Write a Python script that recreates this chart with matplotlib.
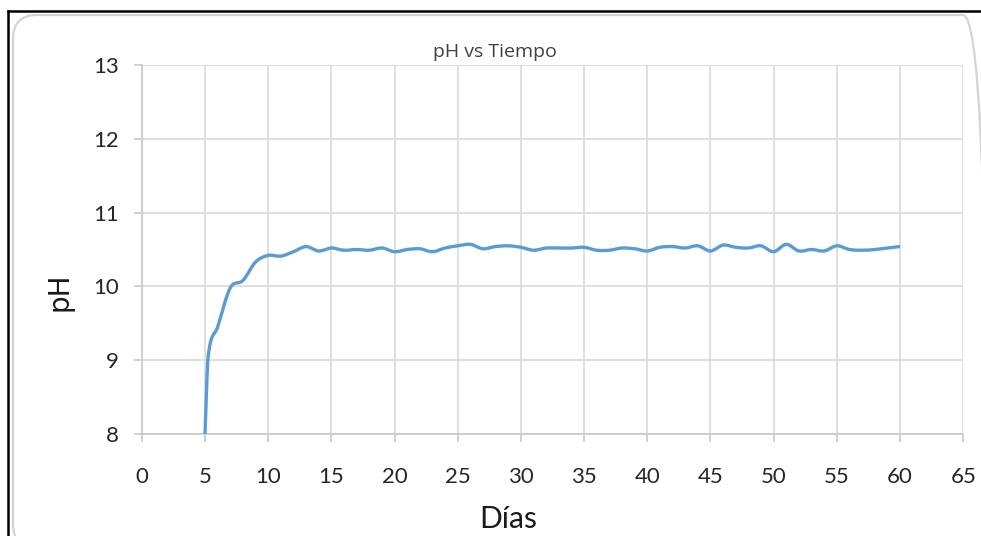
import matplotlib
matplotlib.use("Agg")
import matplotlib.pyplot as plt
from matplotlib.path import Path
from matplotlib.patches import PathPatch, FancyBboxPatch
from matplotlib.lines import Line2D
from matplotlib.transforms import IdentityTransform

# pH readings per day
days = [5, 5.25, 6, 7, 8, 9, 10, 11, 12, 13, 14, 15, 16, 17, 18, 19, 20,
        21, 22, 23, 24, 25, 26, 27, 28, 29, 30, 31, 32, 33, 34, 35, 36, 37,
        38, 39, 40, 41, 42, 43, 44, 45, 46, 47, 48, 49, 50, 51, 52, 53, 54,
        55, 56, 57, 58, 59, 60]
ph = [8.00, 9.05, 9.45, 9.98, 10.08, 10.33, 10.42, 10.41, 10.47, 10.54,
      10.48, 10.52, 10.49, 10.50, 10.49, 10.52, 10.47, 10.50, 10.51, 10.47,
      10.52, 10.55, 10.57, 10.51, 10.54, 10.55, 10.53, 10.49, 10.52, 10.52,
      10.52, 10.53, 10.49, 10.49, 10.52, 10.51, 10.48, 10.53, 10.54, 10.52,
      10.55, 10.48, 10.56, 10.53, 10.52, 10.55, 10.47, 10.57, 10.48, 10.50,
      10.48, 10.55, 10.50, 10.49, 10.50, 10.52, 10.54]

x_ticks = list(range(0, 66, 5))
y_ticks = list(range(8, 14))

LABEL_FONT = ["Lato", "DejaVu Sans"]


def smooth_path(xs, ys):
    """Cubic Hermite curve through the points, written as Bezier segments."""
    n = len(xs)
    slopes = []
    for i in range(n):
        if i == 0:
            m = (ys[1] - ys[0]) / (xs[1] - xs[0])
        elif i == n - 1:
            m = (ys[-1] - ys[-2]) / (xs[-1] - xs[-2])
        else:
            m = (ys[i + 1] - ys[i - 1]) / (xs[i + 1] - xs[i - 1])
        slopes.append(m)
    verts = [(xs[0], ys[0])]
    codes = [Path.MOVETO]
    for i in range(n - 1):
        h = xs[i + 1] - xs[i]
        verts += [(xs[i] + h / 3, ys[i] + slopes[i] * h / 3),
                  (xs[i + 1] - h / 3, ys[i + 1] - slopes[i + 1] * h / 3),
                  (xs[i + 1], ys[i + 1])]
        codes += [Path.CURVE4] * 3
    return Path(verts, codes)


W, H = 981, 536
fig = plt.figure(figsize=(W / 100, H / 100), dpi=100)
fig.patch.set_facecolor("white")

# outer frame: black edge plus rounded chart border
fig.add_artist(Line2D([8 / W, 8 / W], [0, 1 - 11 / H], transform=fig.transFigure,
                      color="black", lw=1.8))
fig.add_artist(Line2D([8 / W, 1], [1 - 11 / H, 1 - 11 / H], transform=fig.transFigure,
                      color="black", lw=1.8))
fig.add_artist(FancyBboxPatch((13, -12), 974, H - 15 + 12,
                              boxstyle="round,pad=0,rounding_size=24",
                              transform=IdentityTransform(),
                              facecolor="none", edgecolor="#d4d4d4", lw=1.6))

ax = fig.add_axes([141.8 / W, 102 / H, 821.4 / W, 369 / H])
ax.set_facecolor("none")

ax.set_xlim(0, 65)
ax.set_ylim(8, 13)
ax.set_xticks(x_ticks)
ax.set_yticks(y_ticks)
ax.set_xticklabels([str(v) for v in x_ticks], family=LABEL_FONT, fontsize=16,
                   color="#262626")
ax.set_yticklabels([str(v) for v in y_ticks], family=LABEL_FONT, fontsize=16,
                   color="#262626")

ax.grid(True, color="#d9d9d9", lw=1.2)
ax.set_axisbelow(True)
for side in ("top", "right"):
    ax.spines[side].set_visible(False)
for side in ("left", "bottom"):
    ax.spines[side].set_color("#c8c8c8")
    ax.spines[side].set_linewidth(1.2)
ax.tick_params(axis="both", which="major", direction="out", length=5.5,
               width=1.2, color="#c8c8c8")
ax.tick_params(axis="x", pad=18)
ax.tick_params(axis="y", pad=11)

curve = PathPatch(smooth_path(days, ph), fill=False, edgecolor="#5b9bd5",
                  lw=2.4, capstyle="butt", joinstyle="round", zorder=3)
ax.add_patch(curve)

ax.set_title("pH vs Tiempo", family=["Open Sans", "DejaVu Sans"], fontsize=14,
             color="#404040", x=(495 - 141.8) / 821.4, y=1 + 8 / 369, pad=0)

ax.set_xlabel("Días", family=LABEL_FONT, fontsize=21.5, color="#1a1a1a")
ax.xaxis.set_label_coords(508 / W, 8 / H, transform=fig.transFigure)
ax.xaxis.label.set_verticalalignment("baseline")

ax.set_ylabel("pH", family="DejaVu Sans", fontsize=20, color="#1a1a1a")
ax.yaxis.set_label_coords(67 / W, 1 - 292 / H, transform=fig.transFigure)
ax.yaxis.label.set_verticalalignment("baseline")

fig.savefig("out.png", dpi=100)
